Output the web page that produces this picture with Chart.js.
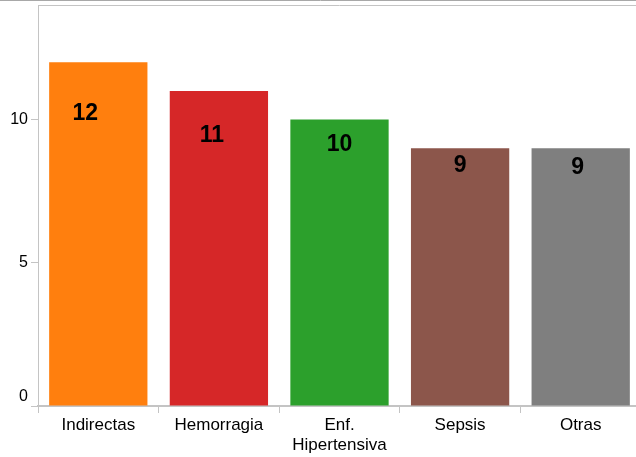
<!DOCTYPE html>
<html>
<head>
<meta charset="utf-8">
<script src="https://cdn.jsdelivr.net/npm/chart.js@4/dist/chart.umd.min.js"></script>
<style>
  html, body { margin: 0; padding: 0; overflow: hidden; background: #fff; }
  #wrap { width: 641px; height: 457px; }
</style>
</head>
<body>
<div id="wrap"><canvas id="c" width="641" height="457"></canvas></div>
<script>
// ---- data ----
const categories = ["Indirectas", "Hemorragia", ["Enf.", "Hipertensiva"], "Sepsis", "Otras"];
const values = [12, 11, 10, 9, 9];
const yTicks = [0, 5, 10];
const barColors = ["#ff7f0e", "#d62728", "#2ca02c", "#8c564b", "#7f7f7f"];

const FONT = "'Liberation Sans', Arial, sans-serif";

// label nudges relative to bar centre / bar top (styling only)
const labelNudge = [
  { dx: -13, dy: 51 }, { dx: -7, dy: 45 }, { dx: 0, dy: 25 }, { dx: 0, dy: 17 }, { dx: -3, dy: 19 }
];

const decor = {
  id: 'decor',
  afterDraw(chart) {
    const { ctx, chartArea: a } = chart;
    ctx.save();
    ctx.lineWidth = 1;
    ctx.strokeStyle = '#a8a8a8';
    ctx.beginPath(); ctx.moveTo(0, 0.5); ctx.lineTo(chart.width, 0.5); ctx.stroke();
    ctx.strokeStyle = '#c4c4c4';
    ctx.beginPath(); ctx.moveTo(a.left, a.top + 0.5); ctx.lineTo(chart.width, a.top + 0.5); ctx.stroke();
    // lifted zero label on the y axis
    const ys = chart.scales.y;
    ctx.fillStyle = '#000';
    ctx.font = "16px " + FONT;
    ctx.textAlign = 'right';
    ctx.textBaseline = 'middle';
    ctx.fillText(String(yTicks[0]), a.left - 10, ys.getPixelForValue(yTicks[0]) - 9);
    // value labels
    const meta = chart.getDatasetMeta(0);
    ctx.font = "bold 23px " + FONT;
    ctx.textAlign = 'center';
    meta.data.forEach((bar, i) => {
      const n = labelNudge[i] || { dx: 0, dy: 25 };
      ctx.fillText(String(values[i]), bar.x + n.dx, bar.y + n.dy);
    });
    ctx.restore();
  }
};

new Chart(document.getElementById('c'), {
  type: 'bar',
  data: {
    labels: categories,
    datasets: [{
      data: values,
      backgroundColor: barColors,
      borderWidth: 0,
      categoryPercentage: 1,
      barPercentage: 0.815
    }]
  },
  options: {
    responsive: false,
    animation: false,
    events: [],
    layout: { padding: { top: 5, left: 0, right: 0, bottom: 0 } },
    plugins: { legend: { display: false }, tooltip: { enabled: false } },
    scales: {
      x: {
        grid: { display: true, drawOnChartArea: false, drawTicks: true, tickLength: 7, color: '#c4c4c4', offset: true },
        border: { display: true, color: '#c4c4c4', width: 2 },
        ticks: { color: '#000', font: { family: FONT, size: 17 }, padding: 2, maxRotation: 0, autoSkip: false },
        afterFit(s) { s.height = 51; s.paddingLeft = 0; s.paddingRight = 0; }
      },
      y: {
        min: 0, max: 14,
        grid: { display: true, drawOnChartArea: false, drawTicks: true, tickLength: 7, color: '#c4c4c4' },
        border: { display: true, color: '#c4c4c4', width: 1 },
        ticks: {
          color: (c) => (c.tick && c.tick.value === 0) ? 'rgba(0,0,0,0)' : '#000',
          font: { family: FONT, size: 16 }, padding: 3
        },
        afterBuildTicks(s) { s.ticks = yTicks.map(v => ({ value: v })); },
        afterFit(s) { s.width = 38; s.paddingTop = 0; s.paddingBottom = 0; }
      }
    }
  },
  plugins: [decor]
});
</script>
</body>
</html>
